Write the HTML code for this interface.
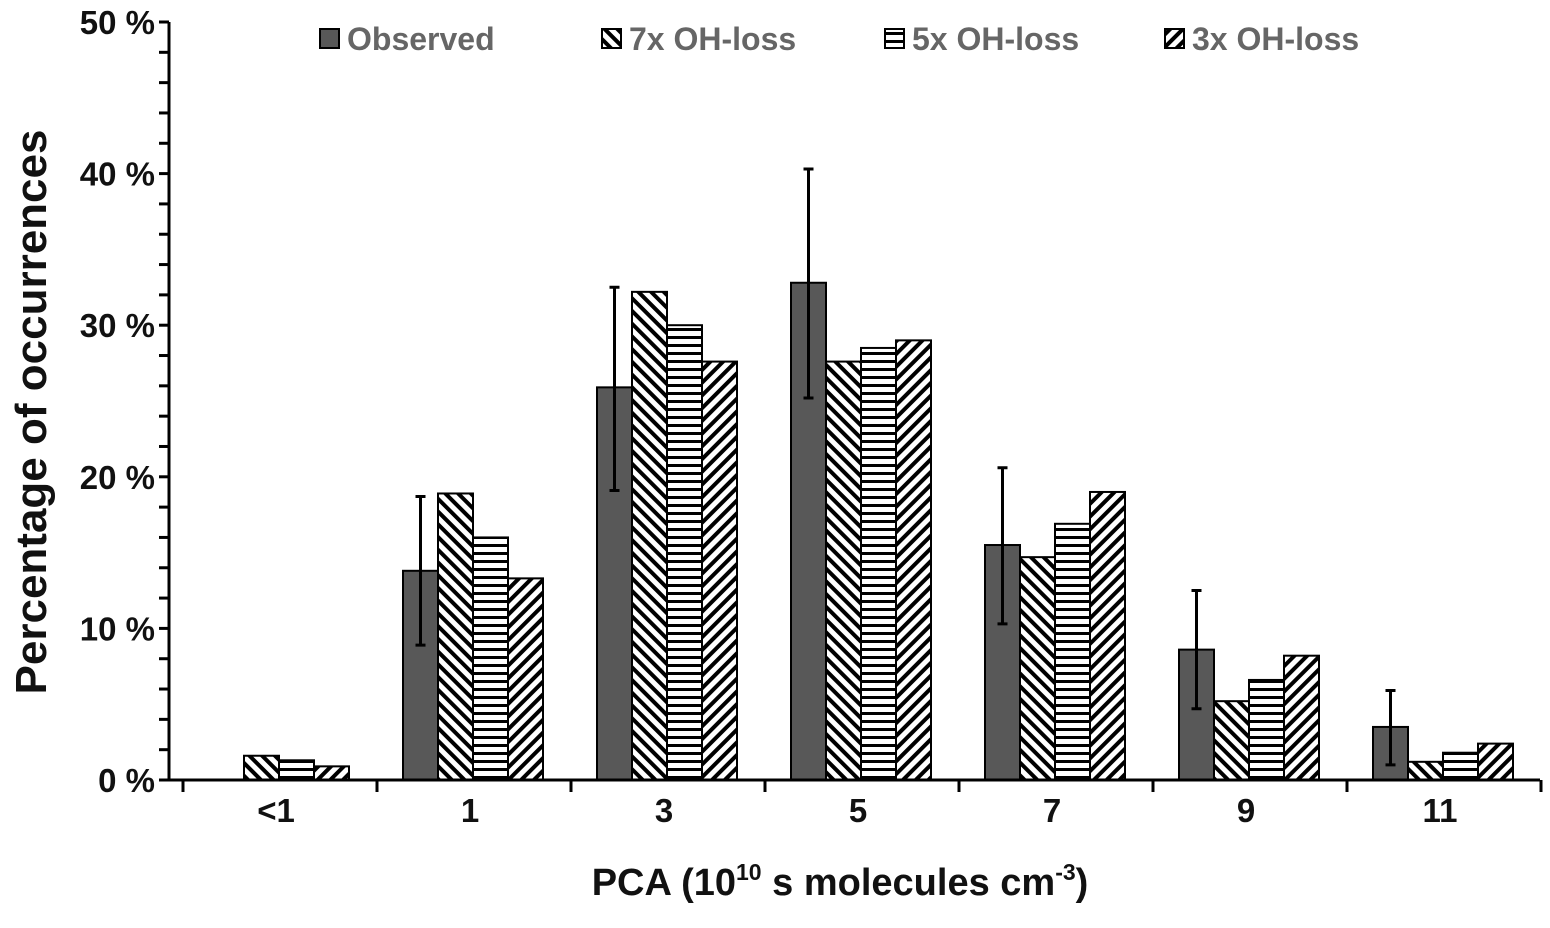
<!DOCTYPE html>
<html><head><meta charset="utf-8"><style>
body{margin:0;background:#fff;}
svg text{font-family:"Liberation Sans",sans-serif;font-weight:bold;}
</style></head><body>
<svg id="chart" width="1550" height="923" viewBox="0 0 1550 923">
<defs>
<pattern id="p7" patternUnits="userSpaceOnUse" width="9" height="9" patternTransform="rotate(-45)"><rect width="9" height="9" fill="#fff"/><rect x="0" width="4" height="9" fill="#000"/></pattern>
<pattern id="p3" patternUnits="userSpaceOnUse" width="9" height="9" patternTransform="rotate(45)"><rect width="9" height="9" fill="#fff"/><rect x="0" width="4" height="9" fill="#000"/></pattern>
<pattern id="p5" patternUnits="userSpaceOnUse" width="8" height="8"><rect width="8" height="8" fill="#fff"/><rect y="0" width="8" height="3" fill="#000"/></pattern>
</defs>
<g id="plot"></g>
<text transform="translate(46,412) rotate(-90)" text-anchor="middle" font-size="44" fill="#111">Percentage of occurrences</text>
<text x="840" y="895" text-anchor="middle" font-size="38" fill="#111">PCA  (10<tspan font-size="23" dy="-15">10</tspan><tspan dy="15"> s molecules cm</tspan><tspan font-size="23" dy="-15">-3</tspan><tspan dy="15">)</tspan></text>
</svg>
<script>
const categories=["<1","1","3","5","7","9","11"];
const observed=[0,13.8,25.9,32.8,15.5,8.6,3.5];
const errLow=[null,8.9,19.1,25.2,10.3,4.7,1.0];
const errHigh=[null,18.7,32.5,40.3,20.6,12.5,5.9];
const oh7=[1.6,18.9,32.2,27.6,14.7,5.2,1.2];
const oh5=[1.3,16.0,30.0,28.5,16.9,6.6,1.8];
const oh3=[0.9,13.3,27.6,29.0,19.0,8.2,2.4];
const yTicks=[0,10,20,30,40,50];
const seriesNames=["Observed","7x OH-loss","5x OH-loss","3x OH-loss"];

const NS="http://www.w3.org/2000/svg";
const g=document.getElementById('plot');
const x0=183,pitch=194,axisX=169,axisRight=1540;
const y=v=>780-v*15.16;
const groupX=i=>x0+i*pitch+26;
function mk(t,a){const e=document.createElementNS(NS,t);for(const k in a)e.setAttribute(k,a[k]);g.appendChild(e);return e;}
const fills=["#585858","url(#p7)","url(#p5)","url(#p3)"];
const series=[observed,oh7,oh5,oh3];
const bw=35;
series.forEach((s,si)=>{s.forEach((v,i)=>{if(v<=0)return;
const r=mk('rect',{x:groupX(i)+si*bw,y:y(v),width:bw,height:y(0)-y(v),fill:fills[si],stroke:'#000','stroke-width':2});

});});
errLow.forEach((lo,i)=>{if(lo==null)return;const cx=groupX(i)+bw/2;
const l=mk('path',{d:`M${cx} ${y(lo)}V${y(errHigh[i])}M${cx-5} ${y(lo)}h10M${cx-5} ${y(errHigh[i])}h10`,stroke:'#000','stroke-width':3,fill:'none'});

});
const ax=mk('path',{d:`M${axisX} ${y(50)}V${y(0)}H${axisRight}`,stroke:'#000','stroke-width':3,fill:'none'});


for(let v=0;v<=50;v+=2){const t=mk('line',{x1:axisX-10,x2:axisX,y1:y(v),y2:y(v),stroke:'#000','stroke-width':3});

}
yTicks.forEach(v=>{const t=mk('text',{x:155,y:y(v)+12,'text-anchor':'end','font-size':33,fill:'#111'});t.textContent=v+' %';

});
for(let i=0;i<=7;i++){const t=mk('line',{x1:x0+i*pitch,x2:x0+i*pitch,y1:y(0),y2:y(0)+12,stroke:'#000','stroke-width':3});

}
categories.forEach((c,i)=>{const t=mk('text',{x:x0+i*pitch+pitch/2-4,y:822,'text-anchor':'middle','font-size':33,fill:'#111'});t.textContent=c;

});
const lx=[320,602,885,1165];
seriesNames.forEach((n,i)=>{const r=mk('rect',{x:lx[i],y:29,width:19,height:19,fill:fills[i],stroke:'#000','stroke-width':2});


const t=mk('text',{x:lx[i]+27,y:50,'font-size':32,fill:'#666'});t.textContent=n;

});
</script>
</body></html>
